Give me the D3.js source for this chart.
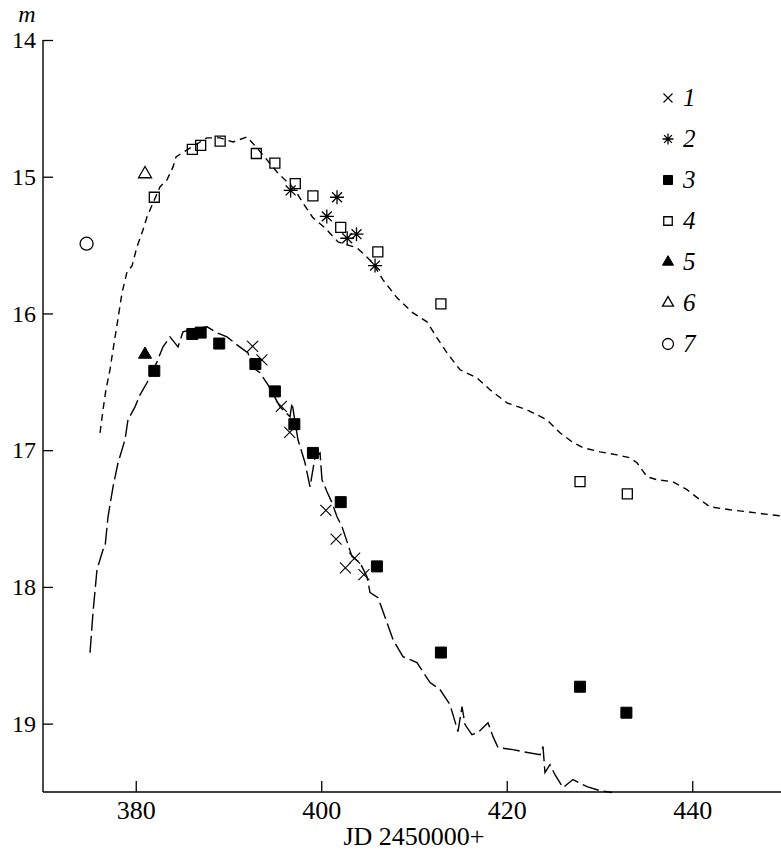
<!DOCTYPE html>
<html>
<head>
<meta charset="utf-8">
<script src="https://cdn.jsdelivr.net/npm/d3@7"></script>
<style>
  html, body { margin: 0; padding: 0; background: #fff; }
  svg { display: block; }
  text { font-family: "Liberation Serif", "Tinos", "Times New Roman", "DejaVu Serif", serif; fill: #000; }
</style>
</head>
<body>
<svg id="chart" width="781" height="850"></svg>
<script>
// Light curves: observed magnitudes vs. Julian date (JD 2450000+)
const xTicks = [380, 400, 420, 440];
const yTicks = [14, 15, 16, 17, 18, 19];
const legendLabels = ["1", "2", "3", "4", "5", "6", "7"];

// Set 1 (×)
const set1JD  = [392.6, 393.6, 395.7, 396.6, 400.5, 401.6, 402.6, 403.6, 404.6];
const set1Mag = [16.24, 16.34, 16.68, 16.87, 17.44, 17.65, 17.86, 17.79, 17.91];
// Set 2 (asterisk)
const set2JD  = [396.7, 401.7, 400.6, 402.8, 403.8, 405.8];
const set2Mag = [15.10, 15.15, 15.29, 15.45, 15.42, 15.65];
// Set 3 (filled square)
const set3JD  = [382.0, 386.1, 387.0, 389.0, 392.9, 395.0, 397.1, 399.1, 402.1, 406.0, 412.9, 427.9, 432.9];
const set3Mag = [16.42, 16.15, 16.14, 16.22, 16.37, 16.57, 16.81, 17.02, 17.38, 17.85, 18.48, 18.73, 18.92];
// Set 4 (open square)
const set4JD  = [382.0, 386.1, 387.0, 389.1, 393.0, 395.0, 397.2, 399.1, 402.1, 406.1, 412.9, 427.9, 433.0];
const set4Mag = [15.15, 14.80, 14.77, 14.74, 14.83, 14.90, 15.05, 15.14, 15.37, 15.55, 15.93, 17.23, 17.32];
// Set 5 (filled triangle)
const set5JD  = [381.0];
const set5Mag = [16.30];
// Set 6 (open triangle)
const set6JD  = [381.0];
const set6Mag = [14.98];
// Set 7 (open circle)
const set7JD  = [374.7];
const set7Mag = [15.49];

// Upper (short-dash) curve
const upperJD  = [376.15, 376.47, 376.79, 377.22, 377.55, 377.98, 378.52, 379.06, 379.60, 380.13, 380.78, 381.21, 381.86, 382.61, 383.37, 384.02, 384.34, 384.99, 386.06, 387.68, 389.08, 390.49, 391.99, 393.07, 394.15, 395.23, 396.09, 397.17, 398.03, 399.11, 400.40, 401.81, 403.85, 405.47, 406.66, 408.17, 409.89, 411.40, 412.48, 413.56, 414.96, 416.79, 418.19, 420.03, 422.18, 424.34, 425.74, 427.04, 428.22, 430.05, 431.89, 433.29, 434.04, 435.12, 436.20, 437.92, 439.43, 440.84, 441.91, 444.07, 445.90, 448.38, 449.57];
const upperMag = [16.873, 16.705, 16.558, 16.412, 16.266, 16.083, 15.849, 15.696, 15.652, 15.513, 15.389, 15.294, 15.192, 15.075, 15.023, 14.928, 14.855, 14.826, 14.782, 14.716, 14.716, 14.746, 14.709, 14.789, 14.877, 14.965, 15.023, 15.096, 15.192, 15.301, 15.374, 15.477, 15.520, 15.623, 15.754, 15.886, 15.996, 16.061, 16.178, 16.288, 16.412, 16.471, 16.558, 16.654, 16.705, 16.778, 16.873, 16.939, 16.982, 17.012, 17.034, 17.056, 17.092, 17.194, 17.216, 17.231, 17.289, 17.363, 17.414, 17.436, 17.450, 17.472, 17.480];

// Lower (long-dash) curve
const lowerJD  = [375.07, 375.39, 375.82, 376.47, 376.68, 377.01, 377.55, 378.09, 378.84, 379.16, 379.92, 380.46, 381.21, 381.54, 382.29, 382.94, 383.69, 384.56, 385.09, 385.85, 387.68, 388.76, 389.84, 390.92, 392.10, 392.53, 393.40, 394.26, 395.55, 396.63, 396.85, 397.49, 398.25, 398.79, 399.33, 399.87, 400.08, 400.62, 401.16, 401.70, 402.24, 403.32, 404.18, 404.93, 405.26, 406.12, 407.09, 407.74, 408.81, 410.32, 411.73, 412.80, 413.88, 414.74, 415.18, 415.50, 416.25, 416.90, 417.98, 418.52, 419.06, 420.67, 421.75, 423.59, 423.91, 424.12, 424.66, 425.20, 426.06, 427.14, 428.65, 430.05, 431.35];
const lowerMag = [18.481, 18.189, 17.874, 17.728, 17.713, 17.487, 17.268, 17.092, 16.924, 16.778, 16.683, 16.595, 16.507, 16.463, 16.354, 16.244, 16.171, 16.244, 16.135, 16.120, 16.098, 16.142, 16.171, 16.230, 16.288, 16.390, 16.434, 16.522, 16.683, 16.756, 16.654, 16.924, 17.092, 17.268, 17.048, 17.019, 17.216, 17.304, 17.385, 17.487, 17.560, 17.779, 17.823, 17.925, 18.042, 18.079, 18.262, 18.386, 18.510, 18.554, 18.700, 18.751, 18.861, 19.058, 18.876, 19.007, 19.080, 19.066, 18.993, 19.095, 19.175, 19.190, 19.205, 19.227, 19.168, 19.358, 19.300, 19.373, 19.468, 19.409, 19.461, 19.490, 19.504];

const svg = d3.select("#chart");
const plot = { left: 43, right: 785, top: 40, bottom: 792 };

const x = d3.scaleLinear().domain([370, 450]).range([plot.left, plot.right]);
const y = d3.scaleLinear().domain([14, 19.5]).range([plot.top, plot.bottom]);

// Custom symbol shapes
const symTimes = {
  draw(ctx, size) {
    const r = Math.sqrt(size) / 2;
    ctx.moveTo(-r, -r); ctx.lineTo(r, r);
    ctx.moveTo(-r, r); ctx.lineTo(r, -r);
  }
};
const symAsterisk = {
  draw(ctx, size) {
    const r = Math.sqrt(size) / 2;
    for (let i = 0; i < 4; i++) {
      const a = i * Math.PI / 4;
      const dx = r * Math.cos(a), dy = r * Math.sin(a);
      ctx.moveTo(-dx, -dy); ctx.lineTo(dx, dy);
    }
  }
};
const symSquare = {
  draw(ctx, size) {
    const h = Math.sqrt(size) / 2;
    ctx.rect(-h, -h, 2 * h, 2 * h);
  }
};
const symTriangle = {
  draw(ctx, size) {
    const s = Math.sqrt(size);
    const h = s * Math.sqrt(3) / 2;
    ctx.moveTo(0, -h * 2 / 3);
    ctx.lineTo(s / 2, h / 3);
    ctx.lineTo(-s / 2, h / 3);
    ctx.closePath();
  }
};
const symCircle = {
  draw(ctx, size) {
    const r = Math.sqrt(size) / 2;
    ctx.moveTo(r, 0);
    ctx.arc(0, 0, r, 0, 2 * Math.PI);
  }
};

// Marker styles: symbol type, plot size (px), legend size (px), filled
const sets = [
  { jd: set1JD, mag: set1Mag, type: symTimes,    size: 11, lsize: 9,   fill: false, stroke: 1.1 },
  { jd: set2JD, mag: set2Mag, type: symAsterisk, size: 14, lsize: 11,  fill: false, stroke: 1.3 },
  { jd: set3JD, mag: set3Mag, type: symSquare,   size: 11, lsize: 9,   fill: true,  stroke: 1 },
  { jd: set4JD, mag: set4Mag, type: symSquare,   size: 10, lsize: 8.5, fill: false, stroke: 1.3 },
  { jd: set5JD, mag: set5Mag, type: symTriangle, size: 13, lsize: 11,  fill: true,  stroke: 1 },
  { jd: set6JD, mag: set6Mag, type: symTriangle, size: 13, lsize: 11,  fill: false, stroke: 1.3 },
  { jd: set7JD, mag: set7Mag, type: symCircle,   size: 13, lsize: 11,  fill: false, stroke: 1.3 }
];

// Axes
const yAxis = d3.axisLeft(y).tickValues(yTicks).tickSize(-10).tickPadding(7).tickFormat(d3.format("d"));
const xAxis = d3.axisBottom(x).tickValues(xTicks).tickSize(-11).tickPadding(9).tickFormat(d3.format("d"));

const gy = svg.append("g").attr("transform", `translate(${plot.left},0)`).call(yAxis);
const gx = svg.append("g").attr("transform", `translate(0,${plot.bottom})`).call(xAxis);
[gy, gx].forEach(g => {
  g.attr("font-family", null);
  g.select(".domain").attr("stroke", "#000").attr("stroke-width", 1.4);
  g.selectAll(".tick line").attr("stroke", "#000").attr("stroke-width", 1.3);
  g.selectAll(".tick text").attr("fill", "#000");
});
gy.selectAll(".tick text").attr("font-size", 24);
gx.selectAll(".tick text").attr("font-size", 26);
gy.select(".domain").attr("d", `M0,${plot.bottom}V${plot.top}`);
gx.select(".domain").attr("d", `M${plot.left},0H781`);

// Axis titles
svg.append("text")
  .attr("x", 27).attr("y", 22)
  .attr("text-anchor", "middle")
  .attr("font-size", 24)
  .attr("font-style", "italic")
  .text("m");

svg.append("text")
  .attr("x", 414).attr("y", 845)
  .attr("text-anchor", "middle")
  .attr("font-size", 26)
  .text("JD 2450000+");

// Model curves
const line = d3.line().x(d => x(d[0])).y(d => y(d[1]));
svg.append("path")
  .datum(d3.zip(upperJD, upperMag))
  .attr("d", line)
  .attr("fill", "none")
  .attr("stroke", "#000")
  .attr("stroke-width", 1.4)
  .attr("stroke-dasharray", "7,5");

svg.append("path")
  .datum(d3.zip(lowerJD, lowerMag))
  .attr("d", line)
  .attr("fill", "none")
  .attr("stroke", "#000")
  .attr("stroke-width", 1.4)
  .attr("stroke-dasharray", "17,5");

// Observed points
sets.forEach(s => {
  const sym = d3.symbol().type(s.type).size(s.size * s.size);
  svg.append("g")
    .selectAll("path")
    .data(d3.zip(s.jd, s.mag))
    .join("path")
    .attr("transform", d => `translate(${x(d[0])},${y(d[1])})`)
    .attr("d", sym)
    .attr("fill", s.fill ? "#000" : "none")
    .attr("stroke", "#000")
    .attr("stroke-width", s.stroke);
});

// Legend
const legend = svg.append("g");
sets.forEach((s, i) => {
  const ly = 98 + i * 41;
  const sym = d3.symbol().type(s.type).size(s.lsize * s.lsize);
  legend.append("path")
    .attr("transform", `translate(668,${ly})`)
    .attr("d", sym)
    .attr("fill", s.fill ? "#000" : "none")
    .attr("stroke", "#000")
    .attr("stroke-width", s.stroke);
  legend.append("text")
    .attr("x", 683).attr("y", ly + 8)
    .attr("font-size", 25)
    .attr("font-style", "italic")
    .text(legendLabels[i]);
});
</script>
</body>
</html>
